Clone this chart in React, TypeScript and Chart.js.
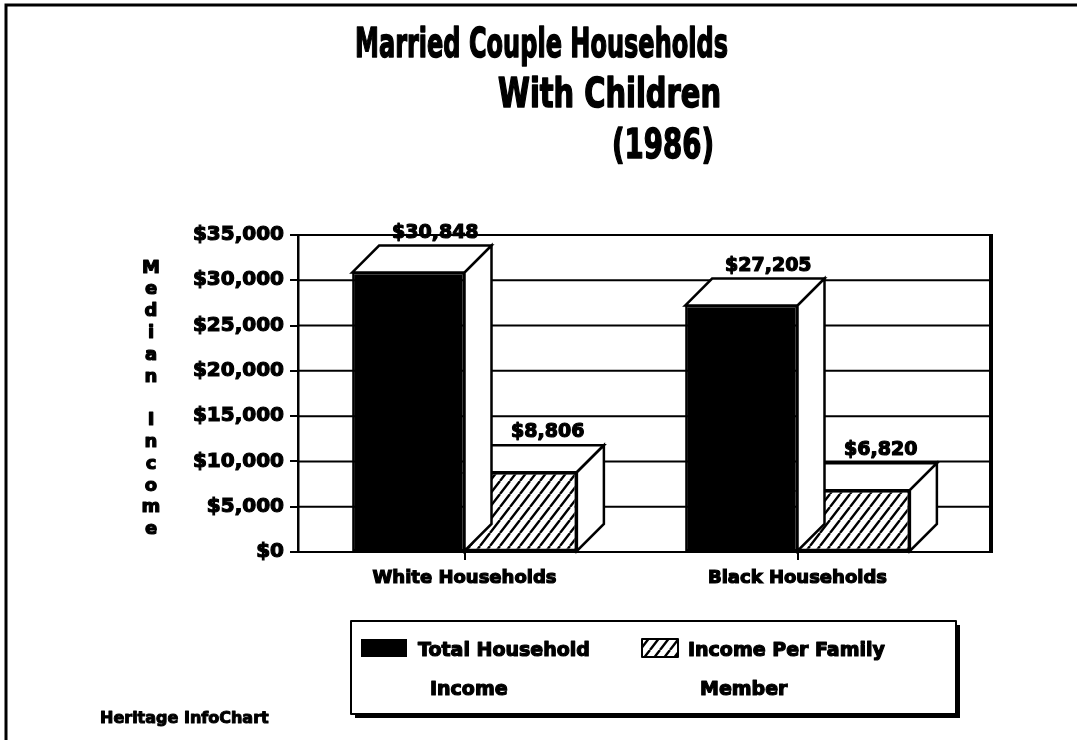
import { useEffect, useRef } from 'react';
import { Chart, registerables } from 'chart.js';

Chart.register(...registerables);

// ---------- data ----------
const categories = ['White Households', 'Black Households'];
const totalIncome = [30848, 27205];
const perMemberIncome = [8806, 6820];
const seriesLabels = ['Total Household Income', 'Income Per Family Member'];
const legendLines = [
  ['Total Household', 'Income'],
  ['Income Per Family', 'Member'],
];
const yTickValues = [0, 5000, 10000, 15000, 20000, 25000, 30000, 35000];
const titleLines = ['Married Couple Households', 'With Children', '(1986)'];
const yAxisTitle = 'Median Income';
const footnote = 'Heritage InfoChart';

// ---------- styles ----------
const FONT = '"DejaVu Sans", "Liberation Sans", sans-serif';
const DEPTH = 27;

const money = (v: number) => '$' + v.toLocaleString('en-US');

function makeHatch(ctx: CanvasRenderingContext2D): CanvasPattern | string {
  const w = 10;
  const h = 13;
  const c = document.createElement('canvas');
  c.width = w;
  c.height = h;
  const g = c.getContext('2d');
  if (!g) return '#888';
  g.fillStyle = '#fff';
  g.fillRect(0, 0, w, h);
  g.strokeStyle = '#000';
  g.lineWidth = 2.4;
  g.beginPath();
  g.moveTo(0, h);
  g.lineTo(w, 0);
  g.moveTo(-w, h);
  g.lineTo(0, 0);
  g.moveTo(w, h);
  g.lineTo(2 * w, 0);
  g.stroke();
  return ctx.createPattern(c, 'repeat') || '#888';
}

function heavyText(ctx: CanvasRenderingContext2D, t: string, x: number, y: number, sw = 1) {
  ctx.lineWidth = sw;
  ctx.lineJoin = 'round';
  ctx.strokeStyle = '#000';
  ctx.strokeText(t, x, y);
  ctx.fillText(t, x, y);
}

export default function App() {
  const ref = useRef<HTMLCanvasElement | null>(null);

  useEffect(() => {
    const canvas = ref.current;
    if (!canvas) return;
    const ctx0 = canvas.getContext('2d');
    if (!ctx0) return;
    const hatch = makeHatch(ctx0);

    const framePlugin = {
      id: 'frame',
      beforeDraw(chart: any) {
        const ctx = chart.ctx;
        ctx.save();
        ctx.fillStyle = '#fff';
        ctx.fillRect(0, 0, chart.width, chart.height);
        ctx.strokeStyle = '#000';
        ctx.lineWidth = 3;
        ctx.beginPath();
        ctx.moveTo(6, 740);
        ctx.lineTo(6, 5);
        ctx.lineTo(1077, 5);
        ctx.stroke();
        ctx.restore();
      },
    };

    const gridPlugin = {
      id: 'grid3d',
      beforeDatasetsDraw(chart: any) {
        const ctx = chart.ctx;
        const ys = chart.scales.y;
        const area = chart.chartArea;
        ctx.save();
        ctx.strokeStyle = '#000';
        ctx.lineWidth = 2;
        yTickValues.forEach((v) => {
          const py = ys.getPixelForValue(v);
          ctx.beginPath();
          ctx.moveTo(area.left, py);
          ctx.lineTo(area.right + DEPTH, py);
          ctx.stroke();
        });
        ctx.lineWidth = 4;
        ctx.beginPath();
        ctx.moveTo(area.right + DEPTH, area.top - 1);
        ctx.lineTo(area.right + DEPTH, area.bottom + 1);
        ctx.stroke();
        ctx.restore();
      },
      afterDatasetDraw(chart: any, args: any) {
        const ctx = chart.ctx;
        const meta = chart.getDatasetMeta(args.index);
        ctx.save();
        ctx.strokeStyle = '#000';
        ctx.lineWidth = 2.5;
        ctx.lineJoin = 'miter';
        ctx.fillStyle = '#fff';
        meta.data.forEach((bar: any) => {
          const { x, y, base, width } = bar.getProps(['x', 'y', 'base', 'width'], true);
          const l = x - width / 2;
          const r = x + width / 2;
          // top face
          ctx.beginPath();
          ctx.moveTo(l, y);
          ctx.lineTo(l + DEPTH, y - DEPTH);
          ctx.lineTo(r + DEPTH, y - DEPTH);
          ctx.lineTo(r, y);
          ctx.closePath();
          ctx.fill();
          ctx.stroke();
          // side face
          ctx.beginPath();
          ctx.moveTo(r, y);
          ctx.lineTo(r + DEPTH, y - DEPTH);
          ctx.lineTo(r + DEPTH, base - DEPTH);
          ctx.lineTo(r, base);
          ctx.closePath();
          ctx.fill();
          ctx.stroke();
        });
        ctx.restore();
      },
      afterDatasetsDraw(chart: any) {
        const ctx = chart.ctx;
        ctx.save();
        ctx.fillStyle = '#000';
        ctx.font = `bold 19px ${FONT}`;
        ctx.textAlign = 'center';
        ctx.textBaseline = 'alphabetic';
        chart.data.datasets.forEach((ds: any, di: number) => {
          const meta = chart.getDatasetMeta(di);
          meta.data.forEach((bar: any, i: number) => {
            const { x, y } = bar.getProps(['x', 'y'], true);
            heavyText(ctx, money(ds.data[i]), x + DEPTH, y - DEPTH - 8, 1.2);
          });
        });
        ctx.restore();
      },
    };

    const textPlugin = {
      id: 'texts',
      afterDraw(chart: any) {
        const ctx = chart.ctx;
        ctx.save();
        ctx.fillStyle = '#000';
        // title: each line fitted between its left and right edges
        const titleSpan = [
          [355, 728],
          [498, 721],
          [612, 714],
        ];
        const titleBase = [57, 107, 158];
        ctx.font = `bold 40px ${FONT}`;
        ctx.textAlign = 'left';
        ctx.textBaseline = 'alphabetic';
        titleLines.forEach((t, i) => {
          const w = ctx.measureText(t).width;
          const [a, b] = titleSpan[i];
          ctx.save();
          ctx.translate(a, titleBase[i]);
          ctx.scale((b - a) / w, 1);
          heavyText(ctx, t, 0, 0, 1.6);
          ctx.restore();
        });
        // vertical axis title
        ctx.font = `bold 18px ${FONT}`;
        ctx.textAlign = 'center';
        ctx.textBaseline = 'middle';
        const chars = yAxisTitle.split('');
        chars.forEach((ch, i) => {
          if (ch !== ' ') heavyText(ctx, ch, 151, 268 + i * 21.8, 1.2);
        });
        // legend box
        ctx.lineWidth = 2;
        ctx.strokeStyle = '#000';
        ctx.strokeRect(351, 621, 605, 93);
        ctx.fillRect(956, 625, 4, 93);
        ctx.fillRect(355, 714, 605, 4);
        // swatches
        ctx.fillRect(361, 639, 46, 18);
        ctx.fillStyle = hatch as any;
        ctx.fillRect(642, 639, 36, 18);
        ctx.lineWidth = 2;
        ctx.strokeRect(642, 639, 36, 18);
        ctx.fillStyle = '#000';
        ctx.font = `bold 19px ${FONT}`;
        ctx.textAlign = 'left';
        ctx.textBaseline = 'alphabetic';
        const lx = [418, 688];
        legendLines.forEach((lines, i) => {
          heavyText(ctx, lines[0], lx[i], 656, 1.2);
          heavyText(ctx, lines[1], lx[i] + 12, 695, 1.2);
        });
        // footnote
        ctx.font = `bold 16px ${FONT}`;
        heavyText(ctx, footnote, 100, 723, 1);
        ctx.restore();
      },
    };

    const chart = new Chart(canvas, {
      type: 'bar',
      data: {
        labels: categories,
        datasets: [
          {
            label: seriesLabels[0],
            data: totalIncome,
            backgroundColor: '#000',
            borderColor: '#000',
            borderWidth: 2,
            borderSkipped: false,
          },
          {
            label: seriesLabels[1],
            data: perMemberIncome,
            backgroundColor: hatch as any,
            borderColor: '#000',
            borderWidth: 2.5,
            borderSkipped: false,
          },
        ],
      },
      options: {
        animation: false,
        responsive: false,
        events: [],
        layout: { padding: { left: 0, right: 113, top: 235, bottom: 148 } },
        datasets: { bar: { categoryPercentage: 0.675, barPercentage: 1.0 } },
        plugins: {
          legend: { display: false },
          title: { display: false },
          tooltip: { enabled: false },
        },
        scales: {
          x: {
            afterFit: (s: any) => {
              s.height = 40;
            },
            grid: {
              offset: false,
              drawOnChartArea: false,
              drawTicks: true,
              tickLength: 8,
              color: '#000',
              lineWidth: 2,
            },
            border: { display: false },
            ticks: {
              color: '#000',
              font: { family: FONT, size: 18, weight: 'bold' },
              padding: 8,
              maxRotation: 0,
              textStrokeColor: '#000',
              textStrokeWidth: 1.2,
            },
          },
          y: {
            min: 0,
            max: 35000,
            afterFit: (s: any) => {
              s.width = 298;
            },
            afterBuildTicks: (s: any) => {
              s.ticks = yTickValues.map((v) => ({ value: v }));
            },
            grid: {
              drawOnChartArea: false,
              drawTicks: true,
              tickLength: 8,
              color: '#000',
              lineWidth: 2,
            },
            border: { display: true, color: '#000', width: 2.5 },
            ticks: {
              color: '#000',
              font: { family: FONT, size: 20, weight: 'bold' },
              padding: 6,
              textStrokeColor: '#000',
              textStrokeWidth: 1.2,
              callback: (v: any) => money(Number(v)),
            },
          },
        },
      },
      plugins: [framePlugin, gridPlugin, textPlugin],
    });

    return () => chart.destroy();
  }, []);

  return (
    <div style={{ position: 'fixed', left: 0, top: 0, width: 1077, height: 740, background: '#fff' }}>
      <canvas ref={ref} width={1077} height={740} />
    </div>
  );
}
